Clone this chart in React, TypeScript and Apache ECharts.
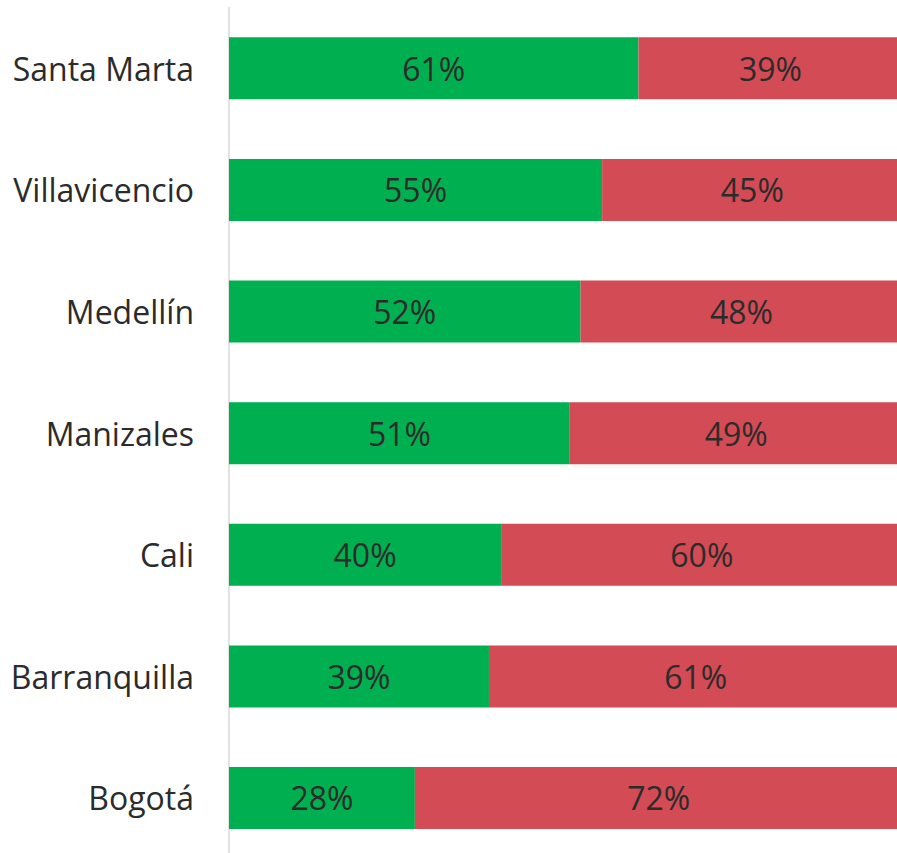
import React, { useEffect, useRef } from "react";
import * as echarts from "echarts";

const cities = ["Santa Marta", "Villavicencio", "Medellín", "Manizales", "Cali", "Barranquilla", "Bogotá"];
const positive = [60.8, 55.4, 52.2, 50.6, 40.4, 38.6, 27.6];
const negative = [39.2, 44.6, 47.8, 49.4, 59.6, 61.4, 72.4];

export default function App() {
  const ref = useRef<HTMLDivElement>(null);
  useEffect(() => {
    if (!ref.current) return;
    const chart = echarts.init(ref.current, undefined, { renderer: "svg" });
    const labelStyle = {
      show: true,
      position: "inside" as const,
      fontFamily: "Open Sans",
      fontSize: 32,
      color: "#2b2b2b",
      formatter: (p: any) => Math.round(p.value) + "%",
    };
    chart.setOption({
      animation: false,
      grid: { left: 229, top: 7.5, width: 673.5, height: 851.3, containLabel: false },
      xAxis: {
        type: "value",
        min: 0,
        max: 100,
        show: false,
      },
      yAxis: {
        type: "category",
        data: cities,
        inverse: true,
        axisLine: { show: true, lineStyle: { color: "#d9d9d9", width: 1.5 } },
        axisTick: { show: false },
        axisLabel: {
          margin: 35,
          fontFamily: "Open Sans",
          fontSize: 32,
          color: "#2b2b2b",
        },
        splitLine: { show: false },
      },
      series: [
        {
          type: "bar",
          stack: "total",
          data: positive,
          barWidth: 62,
          itemStyle: { color: "#00B050" },
          label: labelStyle,
        },
        {
          type: "bar",
          stack: "total",
          data: negative,
          barWidth: 62,
          itemStyle: { color: "#D34B55" },
          label: labelStyle,
        },
      ],
    });
    return () => chart.dispose();
  }, []);
  return (
    <div style={{ position: "absolute", left: 0, top: 0, width: 897, height: 853, overflow: "hidden", background: "#fff" }}>
      <div ref={ref} style={{ width: 910, height: 870 }} />
    </div>
  );
}
